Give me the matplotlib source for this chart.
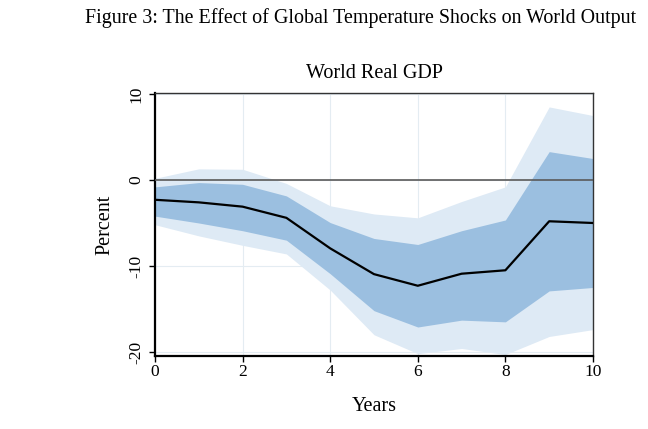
import numpy as np
import matplotlib.pyplot as plt

# horizon (years) and impulse response of world real GDP (percent)
years = [0, 1, 2, 3, 4, 5, 6, 7, 8, 9, 10]
irf = [-2.3, -2.6, -3.1, -4.4, -7.95, -10.95, -12.3, -10.9, -10.5, -4.8, -5.0]

# inner (dark) confidence band
inner_hi = [-0.8, -0.3, -0.5, -1.85, -4.95, -6.8, -7.5, -5.9, -4.65, 3.3, 2.5]
inner_lo = [-4.2, -5.0, -5.9, -7.0, -10.9, -15.2, -17.1, -16.3, -16.5, -12.9, -12.5]

# outer (light) confidence band
outer_hi = [0.2, 1.3, 1.25, -0.4, -3.0, -3.95, -4.4, -2.5, -0.8, 8.5, 7.5]
outer_lo = [-5.2, -6.5, -7.6, -8.6, -12.8, -18.0, -20.2, -19.6, -20.3, -18.2, -17.4]

plt.rcParams['font.family'] = ['Liberation Serif', 'DejaVu Serif']

fig = plt.figure(figsize=(6.48, 4.29), dpi=100)
ax = fig.add_axes([0.2392, 0.1702, 0.6759, 0.6130])

ax.fill_between(years, outer_lo, outer_hi, color='#deeaf5', lw=0, zorder=1)
ax.fill_between(years, inner_lo, inner_hi, color='#9bbfe0', lw=0, zorder=2)
ax.axhline(0, color='#5a5a5a', lw=1.2, zorder=3)
ax.plot(years, irf, color='black', lw=1.6, zorder=4)

ax.set_xlim(0, 10)
ax.set_ylim(-20.47, 10.12)
ax.set_xticks([0, 2, 4, 6, 8, 10])
ax.set_yticks([-20, -10, 0, 10])
ax.set_yticklabels(['-20', '-10', '0', '10'], rotation=90, va='center')
ax.tick_params(labelsize=12.5, direction='out', length=4, width=1, color='black')
ax.tick_params(axis='x', pad=2)

ax.grid(True, color='#e4ecf2', lw=0.8, zorder=0)
ax.set_axisbelow(True)

for side in ['left', 'bottom']:
    ax.spines[side].set_linewidth(1.6)
    ax.spines[side].set_color('black')
for side in ['top', 'right']:
    ax.spines[side].set_linewidth(1.0)
    ax.spines[side].set_color('#333333')

ax.set_xlabel('Years', fontsize=14.5, labelpad=12)
ax.set_ylabel('Percent', fontsize=14.5, labelpad=10)
ax.set_title('World Real GDP', fontsize=14.5, pad=11)

fig.text(0.557, 0.957, 'Figure 3: The Effect of Global Temperature Shocks on World Output',
         ha='center', va='center', fontsize=14.4)

plt.savefig('out.png', dpi=100)
